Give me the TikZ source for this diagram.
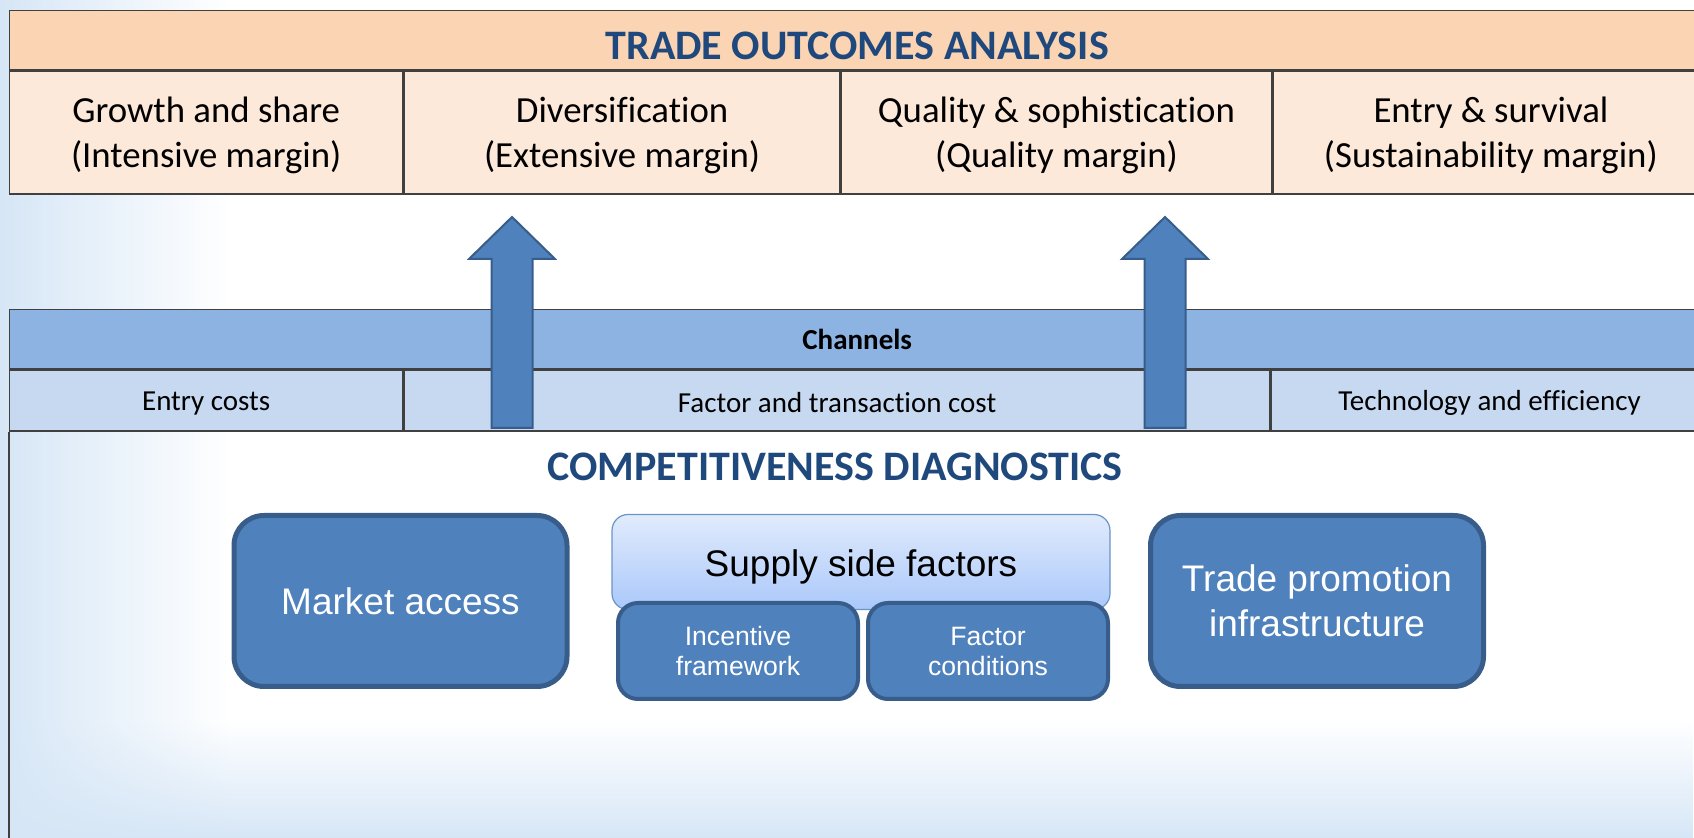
\documentclass[tikz,border=0pt]{standalone}
\usepackage{fontspec}
\setmainfont{Carlito}[Ligatures=NoCommon]
\newfontfamily\arialfont{Liberation Sans}
\usetikzlibrary{positioning, fadings}
\definecolor{PeachHead}{HTML}{FBD4B4}
\definecolor{PeachCell}{HTML}{FDE9D9}
\definecolor{ChanDark}{HTML}{8DB3E2}
\definecolor{ChanLight}{HTML}{C6D9F1}
\definecolor{TitleBlue}{HTML}{1F497D}
\definecolor{BoxBlue}{HTML}{4F81BD}
\definecolor{BoxEdge}{HTML}{385D8A}
\definecolor{GridInk}{HTML}{404040}
\definecolor{SupplyTop}{HTML}{E1EBFC}
\definecolor{SupplyBot}{HTML}{AAC8FA}
\definecolor{HazeBlue}{HTML}{D6E6F6}

\begin{document}
\begin{tikzpicture}[x=0.5pt, y=-0.5pt,
    grid/.style={draw=GridInk, line width=0.7pt},
    band/.style={grid, inner sep=0pt, anchor=north west},
    cell/.style={grid, inner sep=0pt, align=center, minimum height=61.5pt,
                 text height=38.5pt, fill=PeachCell, font=\fontsize{18.4}{22.5}\selectfont},
    chancell/.style={grid, inner sep=0pt, minimum height=30.5pt, text height=12.5pt,
                 fill=ChanLight, font=\fontsize{14.5}{17}\selectfont},
    heading/.style={font=\fontsize{21}{25}\selectfont\bfseries, text=TitleBlue},
    bigbox/.style={draw=BoxEdge, line width=2.5pt, fill=BoxBlue, rounded corners=15pt,
                   minimum width=166.5pt, minimum height=85.5pt, align=center, text=white,
                   font=\arialfont\fontsize{18.5}{22.5}\selectfont},
    smallbox/.style={draw=BoxEdge, line width=2pt, fill=BoxBlue, rounded corners=10pt,
                   minimum width=120pt, minimum height=48pt, align=center, text=white,
                   font=\arialfont\fontsize{13.3}{15}\selectfont},
    supplybox/.style={draw=BoxBlue!85, line width=0.6pt, top color=SupplyTop,
                   bottom color=SupplyBot, rounded corners=8pt,
                   minimum width=249pt, minimum height=47.5pt, text height=18pt,
                   font=\arialfont\fontsize{18.5}{22.5}\selectfont},
    blockarrow/.style={draw=BoxEdge, line width=1pt, fill=BoxBlue, line join=miter}]

  \useasboundingbox (0,0) rectangle (1694,838);

  % slide background haze
  \fill[HazeBlue, path fading=east] (0,0) rectangle (230,838);
  \fill[HazeBlue, path fading=north] (0,720) rectangle (1694,838);

  % trade outcomes table
  \node[band, heading, fill=PeachHead, minimum width=847.5pt, minimum height=29.5pt,
        text height=19pt, text depth=0pt] (outhead) at (9,10) {TRADE OUTCOMES ANALYSIS};
  \node[cell, minimum width=196.5pt, anchor=north west] (growth) at (outhead.south west)
       {Growth and share\\(Intensive margin)};
  \node[cell, minimum width=218pt, right=0pt of growth] (divers)
       {Diversification\\(Extensive margin)};
  \node[cell, minimum width=215pt, right=0pt of divers] (quality)
       {Quality \& sophistication\\(Quality margin)};
  \node[cell, minimum width=218pt, right=0pt of quality] (survival)
       {Entry \& survival\\(Sustainability margin)};

  % channels table
  \node[band, fill=ChanDark, minimum width=847.5pt, minimum height=29.5pt,
        font=\fontsize{14.5}{17}\selectfont\bfseries] (chanhead) at (9,309) {Channels};
  \node[chancell, minimum width=196.5pt, anchor=north west] (entry) at (chanhead.south west)
       {Entry costs};
  \node[chancell, minimum width=433pt, right=0pt of entry] (factorcost)
       {Factor and transaction cost};
  \node[chancell, minimum width=218pt, right=0pt of factorcost] (tech)
       {Technology and efficiency};

  % frame of the diagnostics panel
  \draw[grid] (entry.south west) -- (9,838);

  % block arrows from channels up to outcomes
  \foreach \ax in {512,1165}
    \filldraw[blockarrow] (\ax-20.5,428) -- (\ax-20.5,259) -- (\ax-43,259)
      -- (\ax,217) -- (\ax+43,259) -- (\ax+20.5,259) -- (\ax+20.5,428) -- cycle;

  % competitiveness diagnostics
  \node[heading] (diaghead) at (835,467) {COMPETITIVENESS DIAGNOSTICS};
  \node[bigbox] (market) at (400.5,601) {Market access};
  \node[supplybox] (supply) at (861,562) {Supply side factors};
  \node[smallbox] (incent) at (738,651) {Incentive\\framework};
  \node[smallbox, right=3pt of incent] (factor) {Factor\\conditions};
  \node[bigbox] (promo) at (1317,601) {Trade promotion\\infrastructure};
\end{tikzpicture}
\end{document}
